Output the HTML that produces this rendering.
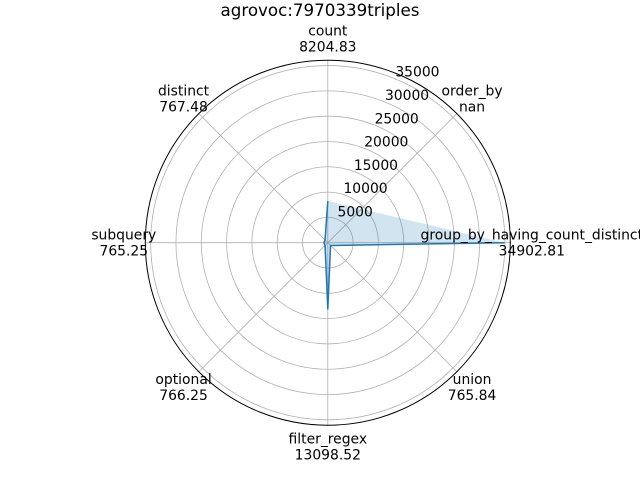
<!DOCTYPE html>
<html><head><meta charset="utf-8"><style>
html,body{margin:0;padding:0;background:#fff;width:640px;height:480px;overflow:hidden}
svg text{font-family:"DejaVu Sans","Liberation Sans",sans-serif;fill:#000}
</style></head><body>
<svg id="chart" width="640" height="480" viewBox="0 0 640 480" xmlns="http://www.w3.org/2000/svg">
<rect width="640" height="480" fill="#fff"/>
<text x="320" y="16" font-size="16.7" text-anchor="middle">agrovoc:7970339triples</text>
<g id="grid"></g><g id="series"></g><g id="labels"></g>
</svg>
<script>
const categories = ["count","order_by","group_by_having_count_distinct","union","filter_regex","optional","subquery","distinct"];
const values = [8204.83, NaN, 34902.81, 765.84, 13098.52, 766.25, 765.25, 767.48];
const valueLabels = ["8204.83","nan","34902.81","765.84","13098.52","766.25","765.25","767.48"];
const radialTicks = [5000,10000,15000,20000,25000,30000,35000];

const NS="http://www.w3.org/2000/svg";
const cx=327.8, cy=242.7, R=182.5, rmax=36060;
function rScale(v){return v/rmax*R;}
function ang(i){return -Math.PI/2 + i*2*Math.PI/categories.length;}
function pt(i,v){const r=rScale(v),a=ang(i);return [cx+r*Math.cos(a),cy+r*Math.sin(a)];}
function mk(tag,attrs,parent){const e=document.createElementNS(NS,tag);for(const k in attrs)e.setAttribute(k,attrs[k]);parent.appendChild(e);return e;}
const grid=document.getElementById('grid'),series=document.getElementById('series'),labels=document.getElementById('labels');

radialTicks.forEach((t)=>{
  const c=mk('circle',{cx:cx,cy:cy,r:rScale(t),fill:'none',stroke:'#b0b0b0','stroke-width':0.8},grid);
  
  
  const r=rScale(t);
  const tx=mk('text',{x:cx+17+0.41*r,y:cy-8-0.92*r+5,'font-size':13.9,'text-anchor':'middle'},labels);
  tx.textContent=String(t);
  
  
});
categories.forEach((c,i)=>{
  const a=ang(i);
  const l=mk('line',{x1:cx,y1:cy,x2:cx+R*Math.cos(a),y2:cy+R*Math.sin(a),stroke:'#b0b0b0','stroke-width':0.8},grid);
  
  
  const lr=204, lx=cx+lr*Math.cos(a), ly=cy+lr*Math.sin(a);
  const t=mk('text',{x:lx,y:ly-3,'font-size':13.9,'text-anchor':'middle'},labels);
  t.textContent=c;
  
  
  const t2=mk('text',{x:lx,y:ly+13,'font-size':13.9,'text-anchor':'middle'},labels);
  t2.textContent=valueLabels[i];
  
  
});
const outer=mk('circle',{cx:cx,cy:cy,r:R,fill:'none',stroke:'#000','stroke-width':1},grid);



const fp=[];values.forEach((v,i)=>{if(!isNaN(v))fp.push(pt(i,v).join(','));});
const poly=mk('polygon',{points:fp.join(' '),fill:'#1f77b4','fill-opacity':0.2,stroke:'none'},series);


const vals=values.concat([values[0]]);
let d='',pen=false;
vals.forEach((v,i)=>{if(isNaN(v)){pen=false;return;}const p=pt(i%categories.length,v);d+=(pen?'L':'M')+p[0].toFixed(2)+','+p[1].toFixed(2)+' ';pen=true;});
const path=mk('path',{d:d,fill:'none',stroke:'#1f77b4','stroke-width':1.5,'stroke-linejoin':'round'},series);


</script>
</body></html>
